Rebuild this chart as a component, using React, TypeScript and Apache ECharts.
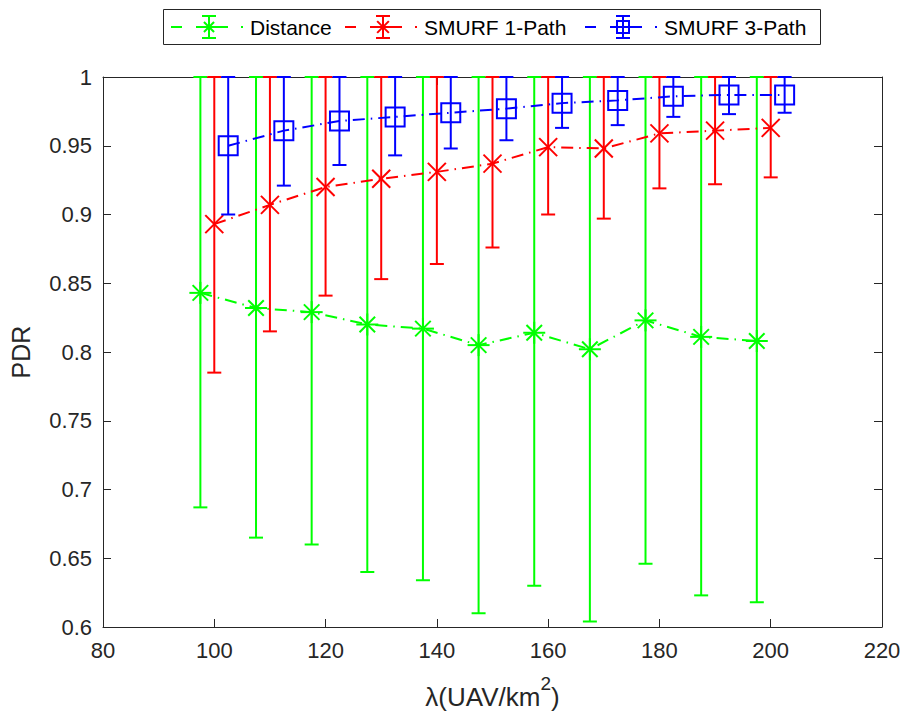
import React, { useEffect, useRef } from "react";
import * as echarts from "echarts";

// ---- data ----
const xDistance = [97.5, 107.5, 117.5, 127.5, 137.5, 147.5, 157.5, 167.5, 177.5, 187.5, 197.5];
const distanceMean = [0.843, 0.832, 0.829, 0.820, 0.817, 0.805, 0.814, 0.802, 0.823, 0.811, 0.808];
const distanceLower = [0.687, 0.665, 0.660, 0.640, 0.634, 0.610, 0.630, 0.604, 0.646, 0.623, 0.618];
const distanceUpper = [1, 1, 1, 1, 1, 1, 1, 1, 1, 1, 1];

const xSmurf1 = [100, 110, 120, 130, 140, 150, 160, 170, 180, 190, 200];
const smurf1Mean = [0.893, 0.907, 0.920, 0.926, 0.931, 0.937, 0.949, 0.948, 0.959, 0.961, 0.963];
const smurf1Lower = [0.785, 0.815, 0.841, 0.853, 0.864, 0.876, 0.900, 0.897, 0.919, 0.922, 0.927];
const smurf1Upper = [1, 1, 1, 1, 1, 1, 1, 1, 1, 1, 1];

const xSmurf3 = [102.5, 112.5, 122.5, 132.5, 142.5, 152.5, 162.5, 172.5, 182.5, 192.5, 202.5];
const smurf3Mean = [0.950, 0.961, 0.968, 0.971, 0.974, 0.977, 0.981, 0.983, 0.986, 0.987, 0.987];
const smurf3Lower = [0.900, 0.921, 0.936, 0.943, 0.948, 0.954, 0.963, 0.965, 0.971, 0.973, 0.974];
const smurf3Upper = [1, 1, 1, 1, 1, 1, 1, 1, 1, 1, 1];

const seriesNames = ["Distance", "SMURF 1-Path", "SMURF 3-Path"];
const seriesColors = ["#00ff00", "#ff0000", "#0000ff"];
const seriesMarkers = ["star", "cross", "square"];

const FONT = "'Liberation Sans', Arial, Helvetica, sans-serif";
const AXIS_COLOR = "#262626";
const LW = 2;
const DASH = [12, 6, 1.5, 6];

function markerShapes(kind: string, cx: number, cy: number, color: string) {
  const st = { stroke: color, lineWidth: LW, fill: "none" };
  if (kind === "star") {
    const r = 11;
    const d = r * 0.7071;
    return [
      { type: "line", shape: { x1: cx - r, y1: cy, x2: cx + r, y2: cy }, style: st },
      { type: "line", shape: { x1: cx, y1: cy - r, x2: cx, y2: cy + r }, style: st },
      { type: "line", shape: { x1: cx - d, y1: cy - d, x2: cx + d, y2: cy + d }, style: st },
      { type: "line", shape: { x1: cx - d, y1: cy + d, x2: cx + d, y2: cy - d }, style: st },
    ];
  }
  if (kind === "cross") {
    const r = 9;
    return [
      { type: "line", shape: { x1: cx - r, y1: cy - r, x2: cx + r, y2: cy + r }, style: st },
      { type: "line", shape: { x1: cx - r, y1: cy + r, x2: cx + r, y2: cy - r }, style: st },
    ];
  }
  const h = 9.5;
  return [{ type: "rect", shape: { x: cx - h, y: cy - h, width: 2 * h, height: 2 * h }, style: st }];
}

function errorShapes(cx: number, yTop: number, yBot: number, color: string, cap: number) {
  const st = { stroke: color, lineWidth: LW };
  return [
    { type: "line", shape: { x1: cx, y1: yTop, x2: cx, y2: yBot }, style: st },
    { type: "line", shape: { x1: cx - cap, y1: yTop, x2: cx + cap, y2: yTop }, style: st },
    { type: "line", shape: { x1: cx - cap, y1: yBot, x2: cx + cap, y2: yBot }, style: st },
  ];
}

function buildSeries(idx: number, xs: number[], mean: number[], lower: number[], upper: number[]) {
  const color = seriesColors[idx];
  const kind = seriesMarkers[idx];
  const lineData = xs.map((x, i) => [x, mean[i]]);
  const errData = xs.map((x, i) => [x, mean[i], lower[i], upper[i]]);
  return [
    {
      name: seriesNames[idx],
      type: "custom",
      coordinateSystem: "cartesian2d",
      clip: false,
      z: 3,
      data: errData,
      renderItem: (_params: any, api: any) => {
        const x = api.value(0);
        const p = api.coord([x, api.value(1)]);
        const lo = api.coord([x, api.value(2)]);
        const hi = api.coord([x, api.value(3)]);
        return {
          type: "group",
          children: [...errorShapes(p[0], hi[1], lo[1], color, 7), ...markerShapes(kind, p[0], p[1], color)],
        };
      },
    },
    {
      name: seriesNames[idx] + " line",
      type: "line",
      data: lineData,
      symbol: "none",
      z: 4,
      lineStyle: { color, width: LW, type: DASH },
    },
  ];
}

function legendGraphic() {
  const children: any[] = [];
  children.push({
    type: "rect",
    shape: { x: 163.5, y: 9.5, width: 657, height: 35 },
    style: { fill: "#ffffff", stroke: AXIS_COLOR, lineWidth: 1 },
  });
  const markersX = [209, 383, 623];
  const cy = 27;
  markersX.forEach((m, i) => {
    const color = seriesColors[i];
    const st = { stroke: color, lineWidth: LW };
    children.push({ type: "line", shape: { x1: m - 38, y1: cy, x2: m - 27, y2: cy }, style: st });
    children.push({ type: "line", shape: { x1: m - 13, y1: cy, x2: m + 19, y2: cy }, style: st });
    children.push({ type: "line", shape: { x1: m + 32, y1: cy, x2: m + 34, y2: cy }, style: st });
    errorShapes(m, cy - 11, cy + 11, color, 7).forEach((s) => children.push(s));
    const mk = markerShapes(seriesMarkers[i], m, cy, color).map((s: any) => {
      if (seriesMarkers[i] === "square") {
        return { ...s, shape: { x: m - 6, y: cy - 6, width: 12, height: 12 } };
      }
      return s;
    });
    const scaled = mk.map((s: any) => {
      if (s.type === "line") {
        const f = 0.65;
        return {
          ...s,
          shape: {
            x1: m + (s.shape.x1 - m) * f,
            y1: cy + (s.shape.y1 - cy) * f,
            x2: m + (s.shape.x2 - m) * f,
            y2: cy + (s.shape.y2 - cy) * f,
          },
        };
      }
      return s;
    });
    scaled.forEach((s: any) => children.push(s));
    children.push({
      type: "text",
      x: m + 41,
      y: cy,
      style: {
        text: seriesNames[i],
        fontSize: 21,
        fontFamily: FONT,
        fill: "#000000",
        verticalAlign: "middle",
        align: "left",
      },
    });
  });
  return [{ type: "group", children }];
}

export default function App() {
  const ref = useRef<HTMLDivElement>(null);
  useEffect(() => {
    document.body.style.margin = "0";
    if (!ref.current) return;
    const chart = echarts.init(ref.current, undefined, { renderer: "svg" });
    const axisCommon = {
      type: "value",
      axisLine: { show: true, onZero: false, lineStyle: { color: AXIS_COLOR, width: 1 } },
      axisTick: { show: true, inside: true, length: 8, lineStyle: { color: AXIS_COLOR, width: 1 } },
      splitLine: { show: false },
    };
    const option: any = {
      animation: false,
      backgroundColor: "#ffffff",
      grid: { left: 100, right: 25, top: 77, bottom: 92, containLabel: false },
      xAxis: [
        {
          ...axisCommon,
          position: "bottom",
          min: 80,
          max: 220,
          interval: 20,
          axisLabel: { fontSize: 22, fontFamily: FONT, color: AXIS_COLOR, margin: 12 },
          name: "{a|λ(UAV/km}{s|2}{a|)}",
          nameLocation: "middle",
          nameGap: 47,
          nameTextStyle: {
            fontFamily: FONT,
            color: AXIS_COLOR,
            rich: {
              a: { fontSize: 26, fontFamily: FONT, color: AXIS_COLOR, lineHeight: 36, verticalAlign: "bottom" },
              s: { fontSize: 19, fontFamily: FONT, color: AXIS_COLOR, verticalAlign: "top" },
            },
          },
        },
        {
          ...axisCommon,
          position: "top",
          min: 80,
          max: 220,
          interval: 20,
          axisLabel: { show: false },
        },
      ],
      yAxis: [
        {
          ...axisCommon,
          position: "left",
          min: 0.6,
          max: 1,
          interval: 0.05,
          axisLabel: {
            fontSize: 22,
            fontFamily: FONT,
            color: AXIS_COLOR,
            margin: 11,
            formatter: (v: number) => String(Math.round(v * 100) / 100),
          },
          name: "PDR",
          nameLocation: "middle",
          nameGap: 70,
          nameTextStyle: { fontSize: 25, fontFamily: FONT, color: AXIS_COLOR },
        },
        {
          ...axisCommon,
          position: "right",
          min: 0.6,
          max: 1,
          interval: 0.05,
          axisLabel: { show: false },
        },
      ],
      series: [
        ...buildSeries(0, xDistance, distanceMean, distanceLower, distanceUpper),
        ...buildSeries(1, xSmurf1, smurf1Mean, smurf1Lower, smurf1Upper),
        ...buildSeries(2, xSmurf3, smurf3Mean, smurf3Lower, smurf3Upper),
      ],
      graphic: legendGraphic(),
    };
    chart.setOption(option);
    return () => chart.dispose();
  }, []);
  return <div ref={ref} style={{ width: 907, height: 719 }} />;
}
